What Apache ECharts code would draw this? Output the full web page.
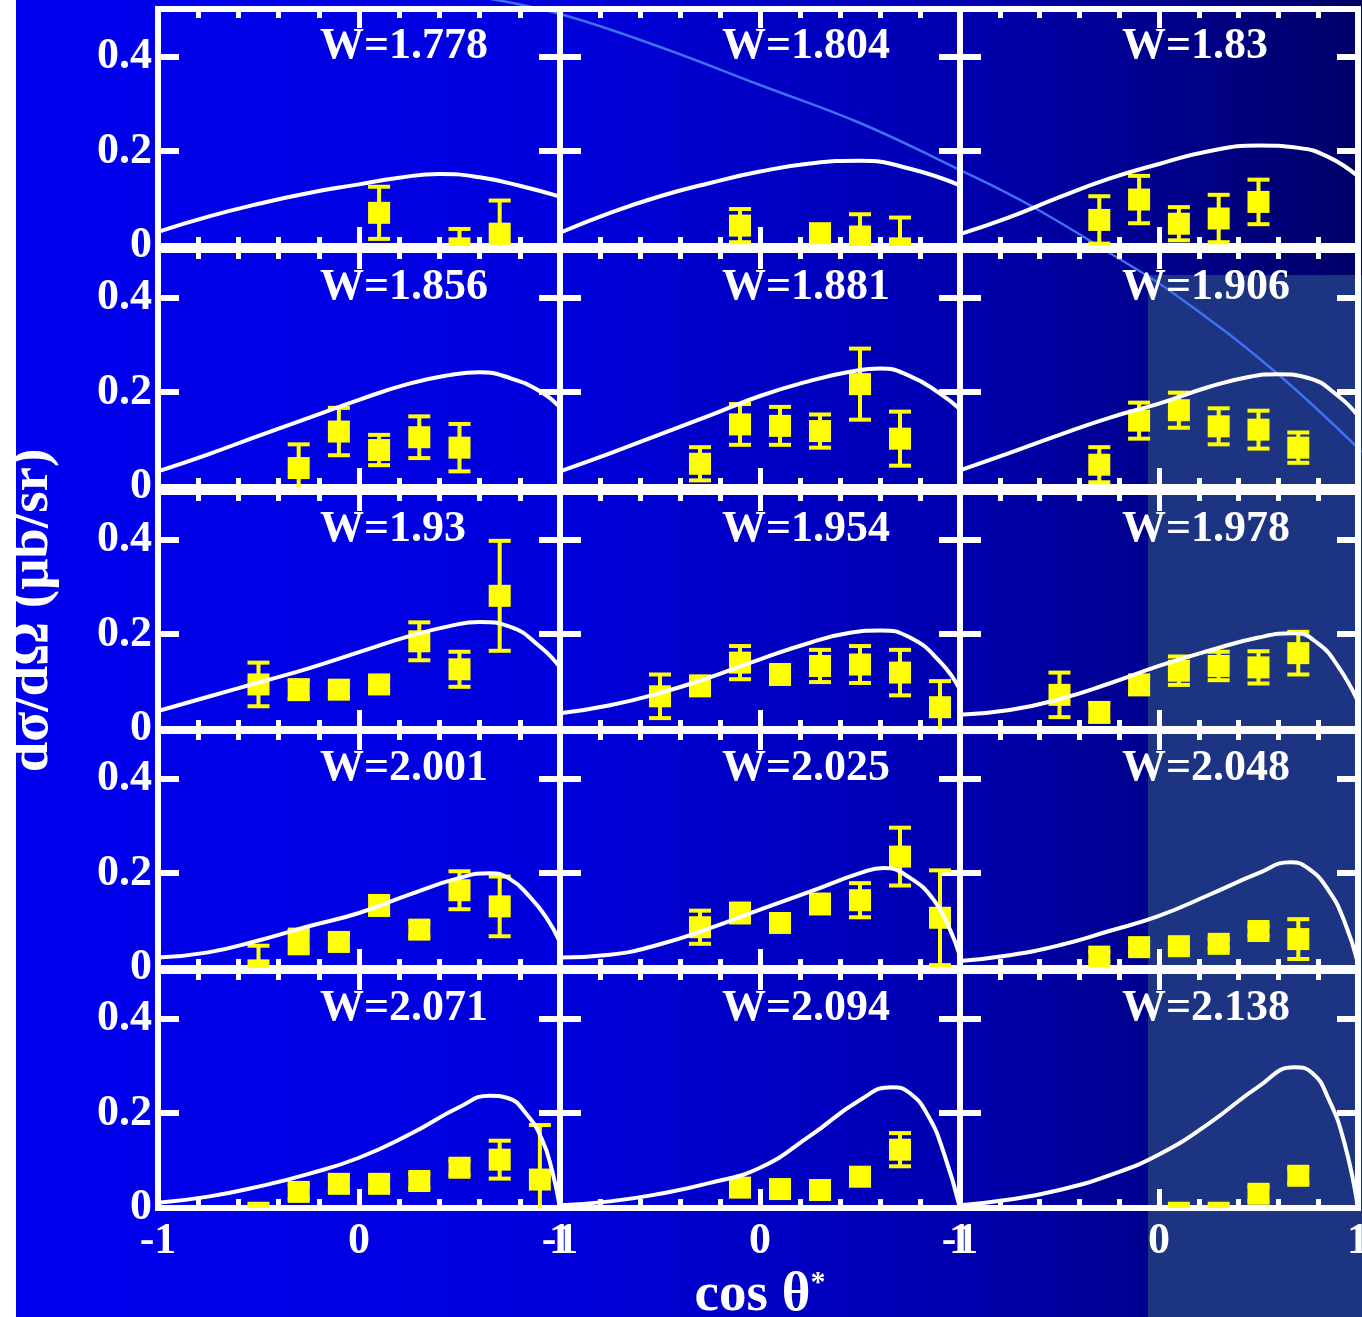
<!DOCTYPE html>
<html>
<head>
<meta charset="utf-8">
<script src="https://cdn.jsdelivr.net/npm/echarts@6/dist/echarts.min.js"></script>
<style>html,body{margin:0;padding:0;background:#fff}#c{width:1362px;height:1317px}</style>
</head>
<body>
<div id="c"></div>
<script>
// ---- tick labels / titles ----
const wLabels = ['1.778','1.804','1.83','1.856','1.881','1.906','1.93','1.954','1.978','2.001','2.025','2.048','2.071','2.094','2.138'];
const xTitle = 'cos θ';
const yTitle = 'dσ/dΩ (μb/sr)';

// ---- data points [cosθ, dσ/dΩ, error] ----
const p1778 = [[0.1,0.07,0.055],[0.5,-0.005,0.041],[0.7,0.026,0.07]];
const p1804 = [[-0.1,0.043,0.035],[0.3,0.027,0.01],[0.5,0.02,0.047],[0.7,-0.005,0.065]];
const p1830 = [[-0.3,0.055,0.05],[-0.1,0.098,0.05],[0.1,0.047,0.035],[0.3,0.058,0.05],[0.5,0.093,0.047]];
const p1856 = [[-0.3,0.04,0.05],[-0.1,0.117,0.05],[0.1,0.078,0.032],[0.3,0.105,0.044],[0.5,0.083,0.05]];
const p1881 = [[-0.3,0.049,0.035],[-0.1,0.132,0.043],[0.1,0.129,0.04],[0.3,0.118,0.035],[0.5,0.217,0.075],[0.7,0.102,0.057]];
const p1906 = [[-0.3,0.047,0.037],[-0.1,0.14,0.038],[0.1,0.162,0.037],[0.3,0.128,0.038],[0.5,0.121,0.04],[0.7,0.083,0.032]];
const p1930 = [[-0.5,0.094,0.046],[-0.3,0.083,0.02],[-0.1,0.083,0.015],[0.1,0.094,0.015],[0.3,0.185,0.04],[0.5,0.126,0.037],[0.7,0.281,0.116]];
const p1954 = [[-0.5,0.069,0.046],[-0.3,0.091,0.02],[-0.1,0.14,0.035],[0.1,0.115,0.02],[0.3,0.133,0.034],[0.5,0.136,0.039],[0.7,0.119,0.048],[0.9,0.046,0.055]];
const p1978 = [[-0.5,0.072,0.047],[-0.3,0.035,0.02],[-0.1,0.093,0.02],[0.1,0.123,0.03],[0.3,0.133,0.03],[0.5,0.13,0.034],[0.7,0.16,0.045]];
const p2001 = [[-0.5,-0.005,0.052],[-0.3,0.056,0.025],[-0.1,0.055,0.015],[0.1,0.132,0.02],[0.3,0.081,0.015],[0.5,0.164,0.04],[0.7,0.13,0.063]];
const p2025 = [[-0.3,0.086,0.035],[-0.1,0.116,0.02],[0.1,0.095,0.015],[0.3,0.135,0.02],[0.5,0.143,0.036],[0.7,0.235,0.061],[0.9,0.106,0.1]];
const p2048 = [[-0.3,0.024,0.01],[-0.1,0.044,0.01],[0.1,0.046,0.01],[0.3,0.051,0.01],[0.5,0.078,0.01],[0.7,0.061,0.042]];
const p2071 = [[-0.5,-0.01,0.012],[-0.3,0.034,0.015],[-0.1,0.051,0.015],[0.1,0.051,0.015],[0.3,0.057,0.015],[0.5,0.085,0.015],[0.7,0.102,0.04],[0.9,0.06,0.115]];
const p2094 = [[-0.1,0.043,0.015],[0.1,0.04,0.015],[0.3,0.038,0.015],[0.5,0.066,0.015],[0.7,0.123,0.035]];
const p2138 = [[0.1,-0.01,0.012],[0.3,-0.01,0.012],[0.5,0.03,0.015],[0.7,0.068,0.015]];

// ---- theory curves [cosθ, dσ/dΩ] ----
const t1778 = [[-1,0.03],[-0.75,0.062],[-0.5,0.089],[-0.25,0.112],[0,0.13],[0.2,0.144],[0.4,0.152],[0.6,0.145],[0.8,0.127],[1,0.104]];
const t1804 = [[-1,0.028],[-0.75,0.07],[-0.5,0.105],[-0.25,0.133],[0,0.157],[0.25,0.174],[0.5,0.18],[0.75,0.163],[1,0.128]];
const t1830 = [[-1,0.025],[-0.75,0.061],[-0.5,0.103],[-0.25,0.142],[0,0.173],[0.25,0.2],[0.5,0.212],[0.7,0.207],[0.85,0.188],[1,0.147]];
const t1856 = [[-1,0.033],[-0.75,0.069],[-0.5,0.108],[-0.25,0.146],[0,0.184],[0.25,0.218],[0.45,0.236],[0.6,0.242],[0.75,0.23],[0.9,0.202],[1,0.168]];
const t1881 = [[-1,0.033],[-0.75,0.071],[-0.5,0.111],[-0.25,0.151],[0,0.192],[0.25,0.224],[0.45,0.243],[0.6,0.25],[0.75,0.234],[0.9,0.197],[1,0.164]];
const t1906 = [[-1,0.035],[-0.75,0.072],[-0.5,0.11],[-0.25,0.146],[0,0.176],[0.25,0.211],[0.45,0.232],[0.6,0.238],[0.75,0.23],[0.9,0.192],[1,0.15]];
const t1930 = [[-1,0.038],[-0.75,0.068],[-0.5,0.098],[-0.25,0.128],[0,0.162],[0.25,0.196],[0.45,0.217],[0.6,0.226],[0.75,0.216],[0.9,0.174],[1,0.13]];
const t1954 = [[-1,0.033],[-0.75,0.05],[-0.5,0.076],[-0.25,0.109],[0,0.147],[0.25,0.182],[0.45,0.203],[0.6,0.208],[0.75,0.193],[0.9,0.142],[1,0.083]];
const t1978 = [[-1,0.03],[-0.75,0.04],[-0.5,0.063],[-0.25,0.096],[0,0.133],[0.25,0.165],[0.5,0.193],[0.68,0.202],[0.8,0.18],[0.9,0.132],[1,0.058]];
const t2001 = [[-1,0.022],[-0.75,0.033],[-0.5,0.058],[-0.25,0.088],[0,0.116],[0.25,0.155],[0.5,0.19],[0.65,0.2],[0.75,0.188],[0.85,0.15],[0.93,0.108],[1,0.055]];
const t2025 = [[-1,0.022],[-0.75,0.028],[-0.5,0.05],[-0.25,0.084],[0,0.123],[0.25,0.161],[0.5,0.2],[0.62,0.211],[0.75,0.19],[0.87,0.143],[0.95,0.081],[1,0.025]];
const t2048 = [[-1,0.015],[-0.75,0.027],[-0.5,0.048],[-0.25,0.078],[0,0.11],[0.25,0.154],[0.5,0.2],[0.66,0.223],[0.75,0.21],[0.85,0.165],[0.93,0.1],[1,0.01]];
const t2071 = [[-1,0.011],[-0.75,0.024],[-0.5,0.045],[-0.25,0.072],[0,0.106],[0.25,0.155],[0.5,0.213],[0.65,0.237],[0.74,0.232],[0.83,0.2],[0.91,0.145],[0.96,0.08],[1,0]];
const t2094 = [[-1,0.006],[-0.75,0.014],[-0.5,0.03],[-0.25,0.053],[0,0.085],[0.25,0.152],[0.5,0.228],[0.66,0.255],[0.75,0.242],[0.84,0.195],[0.92,0.115],[1,0]];
const t2138 = [[-1,0.006],[-0.75,0.018],[-0.5,0.038],[-0.25,0.069],[0,0.113],[0.25,0.178],[0.5,0.256],[0.68,0.297],[0.77,0.285],[0.85,0.232],[0.93,0.14],[1,0]];

const pointSets = [p1778,p1804,p1830,p1856,p1881,p1906,p1930,p1954,p1978,p2001,p2025,p2048,p2071,p2094,p2138];
const curveSets = [t1778,t1804,t1830,t1856,t1881,t1906,t1930,t1954,t1978,t2001,t2025,t2048,t2071,t2094,t2138];

// ---- layout ----
const colLeft = [158, 560, 960];
const colWidth = [402, 400, 398];
const rowBottom = [246, 487, 729, 968, 1208];
const panelH = 237;
const FONT = 'Liberation Serif';
const WHITE = '#ffffff';
const YEL = '#ffff00';

const chart = echarts.init(document.getElementById('c'), null, {renderer: 'canvas'});

const grids = [], xAxes = [], yAxes = [], series = [], titles = [];
const labelStyle = {color: WHITE, fontSize: 44, fontWeight: 'bold', fontFamily: FONT};
const bigStyle = {color: WHITE, fontSize: 55, fontWeight: 'bold', fontFamily: FONT};

for (let i = 0; i < 15; i++) {
  const r = Math.floor(i / 3), c = i % 3;
  const top = rowBottom[r] - panelH;
  grids.push({left: colLeft[c], top: top, width: colWidth[c], height: panelH,
    outerBoundsMode: 'none',
    show: true, borderColor: WHITE, borderWidth: 6, backgroundColor: 'transparent', containLabel: false});
  const xBase = {
    type: 'value', gridIndex: i, min: -1, max: 1, interval: 1,
    axisLine: {show: false, onZero: false},
    axisTick: {show: true, inside: true, length: 19, lineStyle: {color: WHITE, width: 5}},
    minorTick: {show: true, splitNumber: 5, length: 9, lineStyle: {color: WHITE, width: 5}},
    splitLine: {show: false}, minorSplitLine: {show: false}
  };
  const xb = Object.assign({}, xBase, {position: 'bottom',
    axisLabel: {show: r === 4, margin: 12, ...labelStyle}});
  if (r === 4 && c === 1) {
    xb.name = xTitle + '{s|*}';
    xb.nameLocation = 'middle';
    xb.nameGap = 60;
    xb.nameTextStyle = {...bigStyle, rich: {s: {color: WHITE, fontSize: 30, fontWeight: 'bold', fontFamily: FONT, verticalAlign: 'top', lineHeight: 22}}};
  }
  xAxes.push(xb);
  xAxes.push(Object.assign({}, xBase, {position: 'top', axisLabel: {show: false}}));
  const yBase = {
    type: 'value', gridIndex: i, min: 0, max: 0.5, interval: 0.2,
    axisLine: {show: false, onZero: false},
    axisTick: {show: true, inside: true, length: 21, lineStyle: {color: WHITE, width: 6}},
    splitLine: {show: false}
  };
  const yl = Object.assign({}, yBase, {position: 'left',
    axisLabel: {show: c === 0, margin: 6, showMaxLabel: false, ...labelStyle}});
  if (c === 0 && r === 2) {
    yl.name = yTitle;
    yl.nameLocation = 'middle';
    yl.nameRotate = 90;
    yl.nameGap = 98;
    yl.nameTextStyle = {...bigStyle};
  }
  yAxes.push(yl);
  yAxes.push(Object.assign({}, yBase, {position: 'right', axisLabel: {show: false}}));

  titles.push({text: 'W=' + wLabels[i], left: colLeft[c] + 162, top: top + 16, padding: 0,
    textStyle: {...labelStyle}});

  series.push({
    type: 'custom', xAxisIndex: 2 * i, yAxisIndex: 2 * i, z: 2,
    data: pointSets[i],
    renderItem: function (params, api) {
      const x = api.value(0), y = api.value(1), e = api.value(2);
      const cs = params.coordSys;
      const ctr = api.coord([x, y]);
      const hi = api.coord([x, y + e]);
      const lo = api.coord([x, y - e]);
      const half = 11, capH = 4, stemW = 4;
      const kids = [];
      const add = function (rect) {
        const cl = echarts.graphic.clipRectByRect(rect, cs);
        if (cl && cl.width > 0 && cl.height > 0) kids.push({type: 'rect', shape: cl, style: {fill: YEL}});
      };
      add({x: ctr[0] - stemW / 2, y: hi[1], width: stemW, height: lo[1] - hi[1]});
      add({x: ctr[0] - half, y: hi[1] - capH / 2, width: 2 * half, height: capH});
      add({x: ctr[0] - half, y: lo[1] - capH / 2, width: 2 * half, height: capH});
      add({x: ctr[0] - half, y: ctr[1] - half, width: 2 * half, height: 2 * half});
      return {type: 'group', children: kids};
    }
  });
  series.push({
    type: 'line', xAxisIndex: 2 * i, yAxisIndex: 2 * i, z: 3,
    data: curveSets[i], smooth: 0.5, showSymbol: false, symbol: 'none',
    lineStyle: {color: WHITE, width: 4}, clip: true, silent: true
  });
}

const option = {
  animation: false,
  backgroundColor: '#ffffff',
  graphic: [
    {type: 'rect', z: -10, silent: true, shape: {x: 16, y: 0, width: 1346, height: 1317},
      style: {fill: new echarts.graphic.LinearGradient(0, 0, 1, 0, [
        {offset: 0, color: '#0000f0'}, {offset: 0.4, color: '#0000dc'},
        {offset: 0.7, color: '#0000b0'}, {offset: 1, color: '#000068'}])}},
    {type: 'rect', z: -9, silent: true, shape: {x: 1148, y: 275, width: 214, height: 1042},
      style: {fill: '#1c3482'}},
    {type: 'polyline', z: -8, silent: true,
      shape: {points: [[480,-3],[560,14],[660,47],[760,85],[860,123],[960,170],[1033,207],[1113,255],[1173,293],[1273,370],[1362,452]], smooth: 0.4},
      style: {stroke: '#3f70f5', lineWidth: 2.5, fill: null}}
  ],
  title: titles,
  grid: grids,
  xAxis: xAxes,
  yAxis: yAxes,
  series: series
};
chart.setOption(option);
</script>
</body>
</html>
